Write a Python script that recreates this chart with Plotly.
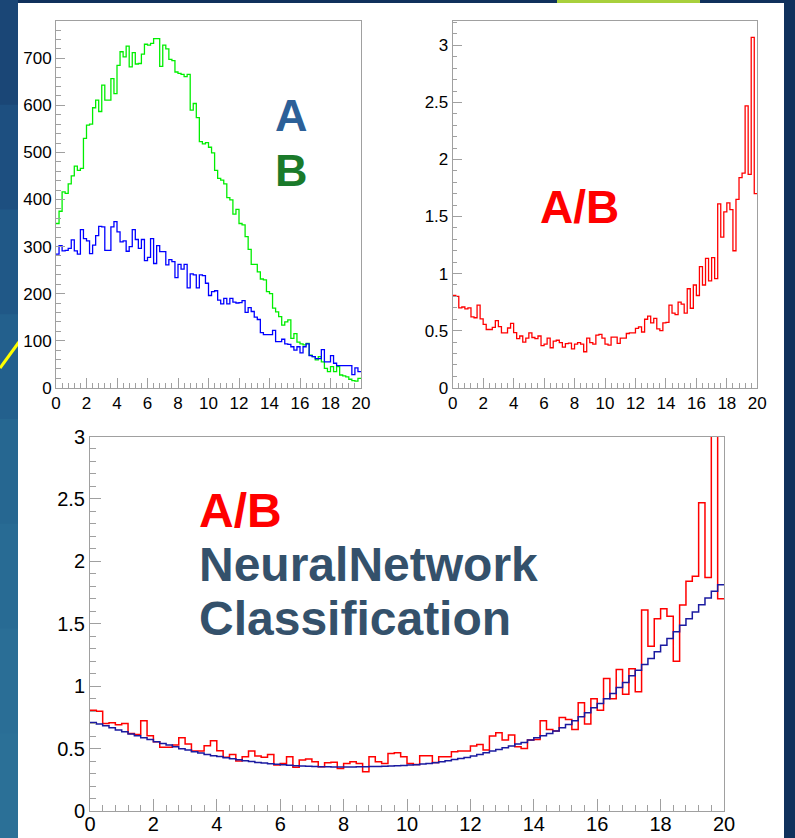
import plotly.graph_objects as go

W, H = 795, 838

# ---------------- data (100 bins, 0..20) ----------------
NBINS = 100
XMIN, XMAX = 0.0, 20.0

hist_A = [284, 302, 291, 292, 296, 314, 291, 284, 336, 317,
          312, 285, 303, 323, 343, 342, 292, 292, 342, 353,
          331, 310, 312, 290, 300, 336, 315, 296, 315, 270,
          277, 317, 264, 302, 289, 289, 261, 272, 268, 234,
          262, 252, 262, 212, 242, 240, 212, 240, 238, 222,
          196, 204, 206, 186, 178, 190, 178, 190, 182, 180,
          181, 185, 160, 170, 162, 150, 145, 117, 113, 113,
          113, 122, 98, 98, 103, 93, 92, 87, 80, 87,
          74, 87, 93, 68, 66, 62, 62, 81, 55, 55,
          68, 52, 47, 47, 47, 47, 47, 28, 42, 34]

hist_B = [349, 375, 416, 413, 433, 450, 471, 462, 466, 530,
          558, 560, 595, 611, 587, 643, 611, 611, 657, 625,
          685, 714, 703, 726, 682, 712, 688, 689, 709, 730,
          728, 732, 742, 742, 683, 728, 720, 698, 695, 671,
          668, 666, 661, 666, 590, 604, 574, 523, 518, 521,
          511, 499, 462, 445, 441, 433, 404, 399, 369, 379,
          349, 346, 321, 294, 262, 262, 246, 231, 229, 204,
          200, 169, 161, 151, 133, 140, 144, 105, 115, 97,
          93, 91, 94, 69, 66, 59, 66, 55, 41, 34,
          45, 34, 45, 27, 25, 23, 18, 15, 14, 20]

ratio_AB = [0.808, 0.800, 0.700, 0.707, 0.690, 0.700, 0.620, 0.613, 0.723, 0.603,
            0.555, 0.510, 0.510, 0.528, 0.587, 0.536, 0.480, 0.480, 0.523, 0.563,
            0.483, 0.430, 0.453, 0.400, 0.435, 0.480, 0.440, 0.430, 0.453, 0.368,
            0.381, 0.435, 0.350, 0.408, 0.416, 0.395, 0.355, 0.387, 0.390, 0.341,
            0.381, 0.395, 0.381, 0.315, 0.435, 0.395, 0.381, 0.461, 0.467, 0.435,
            0.381, 0.373, 0.443, 0.443, 0.389, 0.435, 0.435, 0.475, 0.480, 0.480,
            0.520, 0.533, 0.488, 0.600, 0.627, 0.568, 0.608, 0.515, 0.500, 0.568,
            0.573, 0.723, 0.653, 0.640, 0.750, 0.733, 0.653, 0.867, 0.696, 0.900,
            0.808, 1.061, 0.900, 1.133, 0.936, 1.139, 0.955, 1.610, 1.320, 1.540,
            1.620, 1.560, 1.200, 1.650, 1.840, 1.880, 2.470, 1.870, 3.070, 1.700]

nn_fit = [0.709, 0.696, 0.683, 0.667, 0.648, 0.635, 0.616, 0.603, 0.587, 0.573,
          0.555, 0.541, 0.528, 0.515, 0.499, 0.488, 0.475, 0.464, 0.453, 0.443,
          0.436, 0.427, 0.419, 0.411, 0.403, 0.396, 0.389, 0.384, 0.379, 0.374,
          0.370, 0.366, 0.363, 0.360, 0.358, 0.356, 0.355, 0.354, 0.353, 0.353,
          0.353, 0.353, 0.354, 0.355, 0.356, 0.357, 0.358, 0.360, 0.362, 0.365,
          0.368, 0.371, 0.376, 0.381, 0.387, 0.395, 0.403, 0.413, 0.421, 0.429,
          0.440, 0.453, 0.467, 0.480, 0.493, 0.507, 0.520, 0.536, 0.549, 0.568,
          0.587, 0.603, 0.621, 0.640, 0.667, 0.693, 0.723, 0.755, 0.787, 0.827,
          0.861, 0.900, 0.941, 0.989, 1.029, 1.083, 1.128, 1.173, 1.221, 1.275,
          1.328, 1.381, 1.435, 1.488, 1.541, 1.595, 1.653, 1.707, 1.760, 1.813]

x_ticks = [0, 2, 4, 6, 8, 10, 12, 14, 16, 18, 20]

# ---------------- helpers ----------------
bw = (XMAX - XMIN) / NBINS
edges = [XMIN + i * bw for i in range(NBINS + 1)]


def step(vals):
    return edges, list(vals) + [vals[-1]]


def px(x):
    return x / W


def py(y):
    return 1 - y / H


FONT = "Liberation Sans, Arial, Helvetica, sans-serif"
AXC = "#a0a0a0"

fig = go.Figure()

# top-left: A and B
xs, ys = step(hist_B)
fig.add_trace(go.Scatter(x=xs, y=ys, mode="lines", line=dict(color="#00ee00", width=1.3, shape="hv"),
                         xaxis="x", yaxis="y", showlegend=False, hoverinfo="skip"))
xs, ys = step(hist_A)
fig.add_trace(go.Scatter(x=xs, y=ys, mode="lines", line=dict(color="#0000ff", width=1.3, shape="hv"),
                         xaxis="x", yaxis="y", showlegend=False, hoverinfo="skip"))
# top-right: ratio
xs, ys = step(ratio_AB)
fig.add_trace(go.Scatter(x=xs, y=ys, mode="lines", line=dict(color="#ff0000", width=1.3, shape="hv"),
                         xaxis="x2", yaxis="y2", showlegend=False, hoverinfo="skip"))
# bottom: ratio + NN
fig.add_trace(go.Scatter(x=xs, y=ys, mode="lines", line=dict(color="#ff0000", width=1.5, shape="hv"),
                         xaxis="x3", yaxis="y3", showlegend=False, hoverinfo="skip"))
xs, ys = step(nn_fit)
fig.add_trace(go.Scatter(x=xs, y=ys, mode="lines", line=dict(color="#1a1aa0", width=1.5, shape="hv"),
                         xaxis="x3", yaxis="y3", showlegend=False, hoverinfo="skip"))


def xax(domain, anchor, fsize, tl, mtl, standoff=0):
    return dict(domain=domain, anchor=anchor, range=[XMIN, XMAX], tickmode="array",
                tickvals=x_ticks, ticktext=[str(v) for v in x_ticks],
                ticks="inside", ticklen=tl, tickcolor=AXC, tickwidth=1,
                minor=dict(ticks="inside", ticklen=mtl, dtick=0.4, tick0=0, tickcolor=AXC, showgrid=False),
                showline=True, linecolor=AXC, linewidth=1, mirror=True,
                showgrid=False, zeroline=False, automargin=False,
                ticklabelstandoff=standoff,
                tickfont=dict(family=FONT, size=fsize, color="black"))


def yax(domain, anchor, rng, dt, mdt, fsize, tl, mtl):
    return dict(domain=domain, anchor=anchor, range=rng, tick0=0, dtick=dt,
                ticks="inside", ticklen=tl, tickcolor=AXC, tickwidth=1,
                minor=dict(ticks="inside", ticklen=mtl, dtick=mdt, tick0=0, tickcolor=AXC, showgrid=False),
                showline=True, linecolor=AXC, linewidth=1, mirror=True,
                showgrid=False, zeroline=False, automargin=False,
                tickfont=dict(family=FONT, size=fsize, color="black"))


top_dom = [py(387.7), py(20.7)]
fig.update_layout(
    width=W, height=H, autosize=False,
    margin=dict(l=0, r=0, t=0, b=0, autoexpand=False),
    paper_bgcolor="#10315c", plot_bgcolor="white",
    xaxis=xax([px(56), px(361)], "y", 17, 10, 5),
    yaxis=yax(top_dom, "x", [0, 780], 100, 20, 17, 9, 4.5),
    xaxis2=xax([px(452.7), px(757.3)], "y2", 17, 10, 5),
    yaxis2=yax(top_dom, "x2", [0, 3.216], 0.5, 0.1, 17, 9, 4.5),
    xaxis3=xax([px(90), px(724)], "y3", 20, 12, 6, standoff=-5),
    yaxis3=yax([py(811), py(436.5)], "x3", [0, 3], 0.5, 0.1, 20, 11, 5.5),
)

# ---------------- background decoration ----------------
shapes = []
left_cols = ["#1a4676", "#1d4f80", "#205887", "#23608d", "#266791", "#286b94", "#2a6e96", "#2b7097"]
band = H / len(left_cols)
for i, c in enumerate(left_cols):
    shapes.append(dict(type="rect", xref="paper", yref="paper", x0=0, x1=px(18),
                       y0=py((i + 1) * band + 1), y1=py(i * band), fillcolor=c, line=dict(width=0), layer="below"))
shapes.append(dict(type="rect", xref="paper", yref="paper", x0=px(557), x1=px(700), y0=py(3), y1=1,
                   fillcolor="#a8d03c", line=dict(width=0), layer="below"))
shapes.append(dict(type="line", xref="paper", yref="paper", x0=0, y0=py(368), x1=px(19), y1=py(342),
                   line=dict(color="#ffff00", width=3), layer="below"))
shapes.append(dict(type="rect", xref="paper", yref="paper", x0=px(18), x1=px(784), y0=0, y1=py(3),
                   fillcolor="white", line=dict(width=0), layer="below"))
fig.update_layout(shapes=shapes)

# ---------------- texts ----------------
ann = []


def txt(t, x, y, size, color, xanchor="center"):
    ann.append(dict(text=t, xref="paper", yref="paper", x=px(x), y=py(y), xanchor=xanchor, yanchor="middle",
                    showarrow=False, font=dict(family=FONT, size=size, color=color, weight="bold")))


txt("A", 291, 115, 45, "#2c6098")
txt("B", 291, 170, 45, "#1a7a2a")
txt("A/B", 579, 207, 46, "#ff0000")
txt("A/B", 197, 510, 48, "#ff0000", "left")
txt("NeuralNetwork", 197, 564, 48, "#34516b", "left")
txt("Classification", 197, 618, 48, "#34516b", "left")
fig.update_layout(annotations=ann)

fig.write_html("out.html")
